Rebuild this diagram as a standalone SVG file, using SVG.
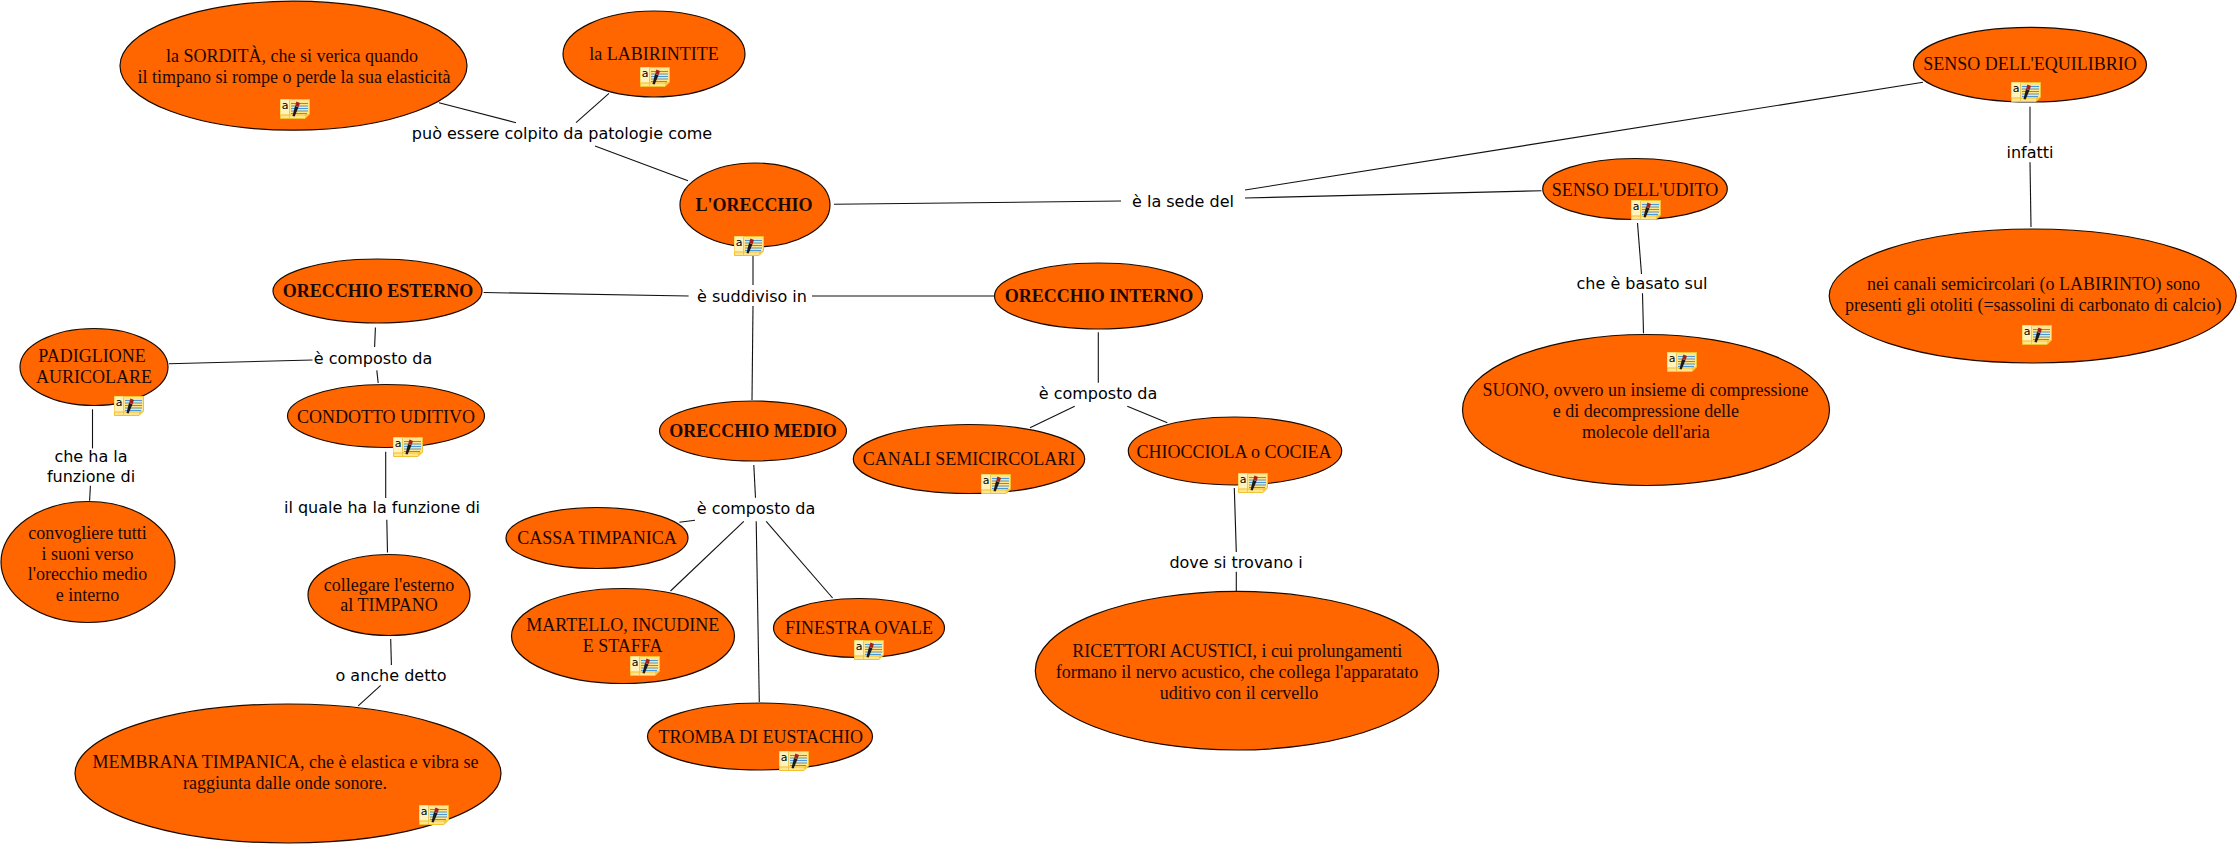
<svg xmlns="http://www.w3.org/2000/svg" width="2240" height="844" viewBox="0 0 2240 844">
<style>
.n{fill:#ff6600;stroke:#1a0a00;stroke-width:1.2}
.t{font-family:"Liberation Serif","Times New Roman",serif;font-size:18px;fill:#1c0800;text-anchor:middle}
.b{font-weight:bold}
.l{font-family:"DejaVu Sans",Verdana,sans-serif;font-size:16px;fill:#000;text-anchor:middle}
#connectors line{stroke:#111;stroke-width:1.1}
</style>
<defs>
<g id="note">
<path d="M0.5 0.5H29.5V15L25 19.5H0.5Z" fill="#ffe58f" stroke="#f2c230"/>
<path d="M0.5 0.5H9.5V15.5H0.5Z" fill="#fff2bd"/>
<path d="M9.5 1V19" stroke="#e8c860" fill="none"/>
<path d="M1 16H25" stroke="#f2c230" fill="none"/>
<path d="M25 19.5V15H29.5Z" fill="#f5c93f"/>
<text x="5" y="10" font-family="'DejaVu Sans',sans-serif" font-size="11" fill="#000" text-anchor="middle">a</text>
<path d="M11 4.5H28M11 7H28M11 9.5H28M11 12H28M11 14.5H27" stroke="#4a97dc" stroke-width="1.1" fill="none"/>
<path d="M12.5 17L15 7L18.5 8.3L14.6 17.6Z" fill="#1a1a1a"/>
<path d="M15.2 6.8L16.4 2.6L20 4L18.6 8Z" fill="#a81e1e"/>
</g>
</defs>
<rect width="2240" height="844" fill="#fff"/>
<g id="connectors">
<line x1="439" y1="102.7" x2="516" y2="122.7"/>
<line x1="609" y1="93.3" x2="576" y2="122.7"/>
<line x1="595" y1="146" x2="688" y2="180.7"/>
<line x1="834" y1="204.3" x2="1121" y2="201"/>
<line x1="1245" y1="198" x2="1541.5" y2="190.7"/>
<line x1="1245" y1="190" x2="1923" y2="82.3"/>
<line x1="2030" y1="106.7" x2="2030" y2="143.3"/>
<line x1="2030" y1="162.3" x2="2031" y2="227"/>
<line x1="1637.5" y1="223" x2="1641.5" y2="274"/>
<line x1="1642.5" y1="293.3" x2="1643.5" y2="333.3"/>
<line x1="1098.3" y1="332.3" x2="1098.3" y2="382.7"/>
<line x1="1074.7" y1="406.3" x2="1030" y2="427.7"/>
<line x1="1127.3" y1="406.3" x2="1167.3" y2="422.7"/>
<line x1="1234.3" y1="488" x2="1236.3" y2="552"/>
<line x1="1236.3" y1="571.7" x2="1236.3" y2="591"/>
<line x1="753" y1="255" x2="753" y2="285"/>
<line x1="753" y1="306" x2="752" y2="400"/>
<line x1="483.6" y1="292.5" x2="688.6" y2="296"/>
<line x1="812" y1="296" x2="994" y2="296"/>
<line x1="753.8" y1="465" x2="755.5" y2="497.7"/>
<line x1="679.4" y1="522.3" x2="695" y2="520.3"/>
<line x1="743.8" y1="521.3" x2="670.5" y2="591"/>
<line x1="756.2" y1="521.3" x2="759.3" y2="702"/>
<line x1="766.2" y1="521.3" x2="832.6" y2="598"/>
<line x1="375.4" y1="327.5" x2="374.6" y2="347"/>
<line x1="376.8" y1="370.4" x2="378.2" y2="383"/>
<line x1="169" y1="363.7" x2="312.5" y2="360"/>
<line x1="92.5" y1="409.3" x2="92.5" y2="448.4"/>
<line x1="90.4" y1="485.7" x2="89.6" y2="500.7"/>
<line x1="385.7" y1="451.8" x2="385.7" y2="498"/>
<line x1="386.8" y1="519.7" x2="387.5" y2="552.5"/>
<line x1="390.7" y1="639" x2="391.4" y2="665"/>
<line x1="380.7" y1="685.4" x2="358.2" y2="705.9"/>
</g>
<g id="link-labels">
<text class="l" x="562" y="139">può essere colpito da patologie come</text>
<text class="l" x="1183" y="207">è la sede del</text>
<text class="l" x="752" y="302">è suddiviso in</text>
<text class="l" x="373" y="364">è composto da</text>
<text class="l" x="91" y="462">che ha la</text>
<text class="l" x="91" y="482">funzione di</text>
<text class="l" x="382" y="513">il quale ha la funzione di</text>
<text class="l" x="391" y="681">o anche detto</text>
<text class="l" x="756" y="514">è composto da</text>
<text class="l" x="1098" y="399">è composto da</text>
<text class="l" x="1236" y="568">dove si trovano i</text>
<text class="l" x="1642" y="289">che è basato sul</text>
<text class="l" x="2030" y="158">infatti</text>
</g>
<g id="n-sordita"><ellipse class="n" cx="293.5" cy="65.7" rx="173.5" ry="64.5"/><text class="t" x="292" y="62">la SORDITÀ, che si verica quando</text><text class="t" x="294" y="83">il timpano si rompe o perde la sua elasticità</text><use href="#note" x="280" y="99"/></g>
<g id="n-labirintite"><ellipse class="n" cx="654" cy="54" rx="91" ry="43"/><text class="t" x="654" y="60">la LABIRINTITE</text><use href="#note" x="640" y="67"/></g>
<g id="n-orecchio"><ellipse class="n" cx="755" cy="205" rx="75" ry="42"/><text class="t b" x="754" y="211">L'ORECCHIO</text><use href="#note" x="734" y="236"/></g>
<g id="n-esterno"><ellipse class="n" cx="377.5" cy="291" rx="104.5" ry="32"/><text class="t b" x="378" y="297">ORECCHIO ESTERNO</text></g>
<g id="n-padiglione"><ellipse class="n" cx="94" cy="367" rx="74" ry="38.5"/><text class="t" x="92" y="362">PADIGLIONE</text><text class="t" x="94" y="383">AURICOLARE</text><use href="#note" x="114" y="396"/></g>
<g id="n-condotto"><ellipse class="n" cx="386" cy="416" rx="98.5" ry="31.5"/><text class="t" x="386" y="423">CONDOTTO UDITIVO</text><use href="#note" x="393" y="437"/></g>
<g id="n-convogliere"><ellipse class="n" cx="88" cy="562" rx="87" ry="60.5"/><text class="t" x="87.5" y="539">convogliere tutti</text><text class="t" x="87.5" y="559.5">i suoni verso</text><text class="t" x="87.5" y="580">l'orecchio medio</text><text class="t" x="87.5" y="600.5">e interno</text></g>
<g id="n-collegare"><ellipse class="n" cx="389" cy="595" rx="81" ry="40.5"/><text class="t" x="389" y="590.5">collegare l'esterno</text><text class="t" x="389" y="611">al TIMPANO</text></g>
<g id="n-membrana"><ellipse class="n" cx="288" cy="773.5" rx="213" ry="69.5"/><text class="t" x="285.5" y="768">MEMBRANA TIMPANICA, che è elastica e vibra se</text><text class="t" x="285" y="789">raggiunta dalle onde sonore.</text><use href="#note" x="419" y="805"/></g>
<g id="n-medio"><ellipse class="n" cx="753" cy="431" rx="93.5" ry="30"/><text class="t b" x="753" y="437">ORECCHIO MEDIO</text></g>
<g id="n-cassa"><ellipse class="n" cx="597" cy="538" rx="91" ry="30.5"/><text class="t" x="597" y="544">CASSA TIMPANICA</text></g>
<g id="n-martello"><ellipse class="n" cx="623" cy="636" rx="111.5" ry="47.5"/><text class="t" x="622.7" y="631">MARTELLO, INCUDINE</text><text class="t" x="622.6" y="652">E STAFFA</text><use href="#note" x="630" y="656"/></g>
<g id="n-finestra"><ellipse class="n" cx="859" cy="628" rx="85.5" ry="29.5"/><text class="t" x="859" y="634">FINESTRA OVALE</text><use href="#note" x="854" y="640"/></g>
<g id="n-tromba"><ellipse class="n" cx="760" cy="736.5" rx="112.5" ry="33.5"/><text class="t" x="760.7" y="743">TROMBA DI EUSTACHIO</text><use href="#note" x="779" y="751"/></g>
<g id="n-interno"><ellipse class="n" cx="1098.5" cy="296" rx="104" ry="33"/><text class="t b" x="1099" y="302">ORECCHIO INTERNO</text></g>
<g id="n-canali"><ellipse class="n" cx="969" cy="459" rx="115.7" ry="34.5"/><text class="t" x="969" y="465">CANALI SEMICIRCOLARI</text><use href="#note" x="981" y="474"/></g>
<g id="n-chiocciola"><ellipse class="n" cx="1235" cy="451" rx="106.7" ry="34"/><text class="t" x="1234" y="458">CHIOCCIOLA o COCIEA</text><use href="#note" x="1238" y="473"/></g>
<g id="n-ricettori"><ellipse class="n" cx="1237" cy="670.7" rx="201.7" ry="79.3"/><text class="t" x="1237.3" y="657">RICETTORI ACUSTICI, i cui prolungamenti</text><text class="t" x="1237" y="678">formano il nervo acustico, che collega l'apparatato</text><text class="t" x="1239" y="699">uditivo con il cervello</text></g>
<g id="n-udito"><ellipse class="n" cx="1635" cy="189" rx="92.3" ry="30.5"/><text class="t" x="1635" y="195.5">SENSO DELL'UDITO</text><use href="#note" x="1631" y="200"/></g>
<g id="n-equilibrio"><ellipse class="n" cx="2030" cy="64.7" rx="116.5" ry="37.3"/><text class="t" x="2030" y="70">SENSO DELL'EQUILIBRIO</text><use href="#note" x="2011" y="82"/></g>
<g id="n-suono"><ellipse class="n" cx="1646" cy="410" rx="183.5" ry="75.5"/><text class="t" x="1645.6" y="396">SUONO, ovvero un insieme di compressione</text><text class="t" x="1645.9" y="417">e di decompressione delle</text><text class="t" x="1645.9" y="437.5">molecole dell'aria</text><use href="#note" x="1667" y="352"/></g>
<g id="n-canali2"><ellipse class="n" cx="2032.7" cy="296" rx="203.5" ry="67"/><text class="t" x="2033.6" y="290">nei canali semicircolari (o LABIRINTO) sono</text><text class="t" x="2033.2" y="311">presenti gli otoliti (=sassolini di carbonato di calcio)</text><use href="#note" x="2022" y="325"/></g>
</svg>
